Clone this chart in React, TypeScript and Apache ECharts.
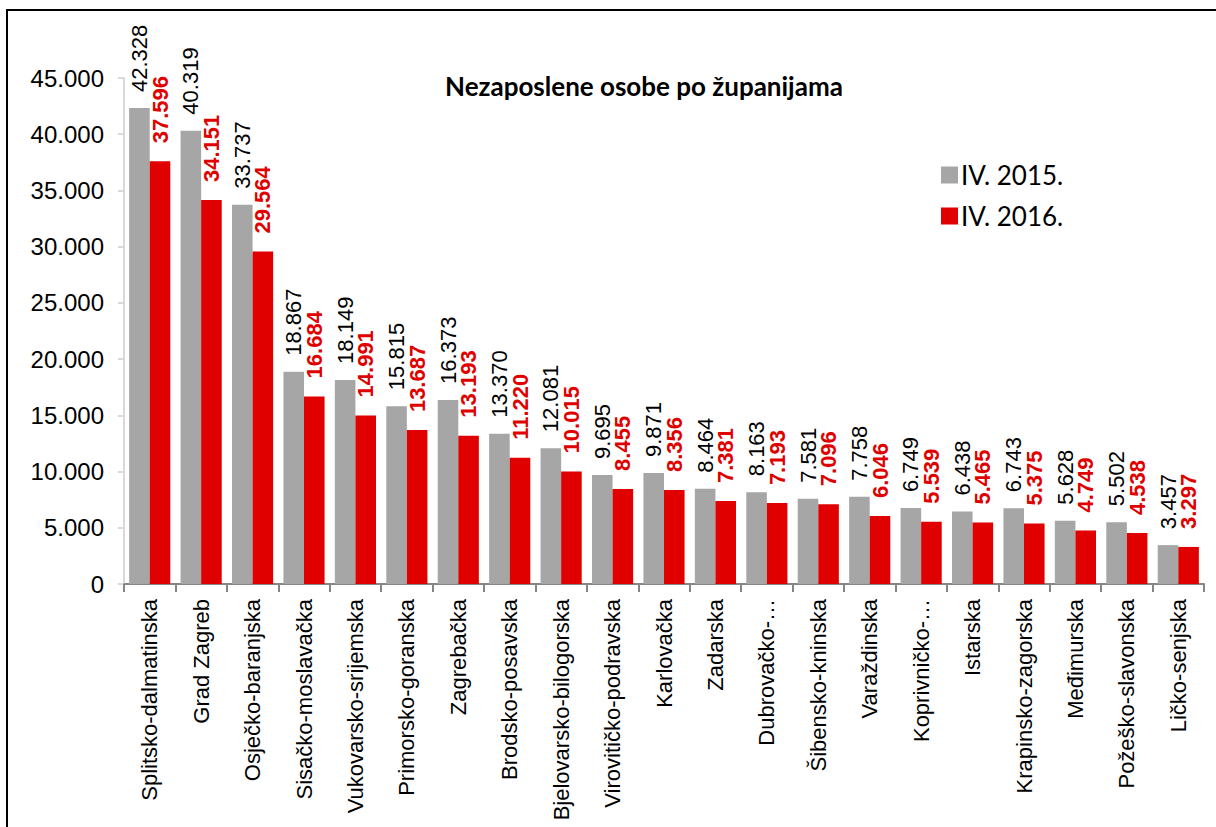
import React, { useEffect, useRef } from "react";
import * as echarts from "echarts";

const categories = [
  "Splitsko-dalmatinska",
  "Grad Zagreb",
  "Osječko-baranjska",
  "Sisačko-moslavačka",
  "Vukovarsko-srijemska",
  "Primorsko-goranska",
  "Zagrebačka",
  "Brodsko-posavska",
  "Bjelovarsko-bilogorska",
  "Virovitičko-podravska",
  "Karlovačka",
  "Zadarska",
  "Dubrovačko-…",
  "Šibensko-kninska",
  "Varaždinska",
  "Koprivničko-…",
  "Istarska",
  "Krapinsko-zagorska",
  "Međimurska",
  "Požeško-slavonska",
  "Ličko-senjska",
];

const values2015 = [
  42328, 40319, 33737, 18867, 18149, 15815, 16373, 13370, 12081, 9695, 9871,
  8464, 8163, 7581, 7758, 6749, 6438, 6743, 5628, 5502, 3457,
];

const values2016 = [
  37596, 34151, 29564, 16684, 14991, 13687, 13193, 11220, 10015, 8455, 8356,
  7381, 7193, 7096, 6046, 5539, 5465, 5375, 4749, 4538, 3297,
];

const seriesNames = ["IV. 2015.", "IV. 2016."];
const titleText = "Nezaposlene osobe po županijama";

const NARROW = "'Liberation Sans Narrow', 'Arial Narrow', 'Liberation Sans', Arial, sans-serif";
const CAL = "Lato, 'Open Sans', sans-serif";

const fmt = (v: number) => String(v).replace(/\B(?=(\d{3})+(?!\d))/g, ".");

export default function App() {
  const ref = useRef<HTMLDivElement>(null);
  useEffect(() => {
    if (!ref.current) return;
    const chart = echarts.init(ref.current, undefined, { renderer: "svg" });
    chart.setOption({
      animation: false,
      backgroundColor: "#ffffff",
      title: {
        text: titleText,
        left: 440,
        top: 68,
        textStyle: { fontFamily: CAL, fontWeight: "bold", fontSize: 26, color: "#000" },
      },
      legend: {
        orient: "vertical",
        left: 936,
        top: 157,
        itemWidth: 17,
        itemHeight: 17,
        itemGap: 15,
        icon: "rect",
        textStyle: { fontFamily: CAL, fontSize: 26, color: "#000", padding: [0, 0, 0, -2] },
        data: seriesNames,
      },
      graphic: [
        {
          type: "rect",
          shape: { x: 7, y: 10, width: 1230, height: 840 },
          style: { fill: "none", stroke: "#000", lineWidth: 2 },
          silent: true,
        },
      ],
      grid: { left: 124, right: 12, top: 78, bottom: 243, containLabel: false, outerBoundsMode: "none" },
      xAxis: {
        type: "category",
        data: categories,
        axisLine: { lineStyle: { color: "#868686", width: 2 } },
        axisTick: { show: true, length: 8, lineStyle: { color: "#868686", width: 2 } },
        axisLabel: {
          rotate: 90,
          interval: 0,
          margin: 15,
          fontFamily: NARROW,
          fontSize: 22,
          color: "#000",
        },
      },
      yAxis: {
        type: "value",
        min: 0,
        max: 45000,
        interval: 5000,
        splitLine: { show: false },
        axisLine: { show: true, lineStyle: { color: "#D9D9D9", width: 2 } },
        axisTick: { show: true, length: 6, lineStyle: { color: "#D9D9D9", width: 2 } },
        axisLabel: {
          formatter: (v: number) => fmt(v),
          margin: 20,
          fontFamily: NARROW,
          fontSize: 24,
          color: "#000",
        },
      },
      series: [
        {
          name: seriesNames[0],
          type: "bar",
          data: values2015,
          barGap: "0%",
          barCategoryGap: "20%",
          itemStyle: { color: "#A6A6A6" },
          label: {
            show: true,
            position: "top",
            rotate: 90,
            align: "left",
            verticalAlign: "middle",
            distance: 16,
            formatter: (p: any) => fmt(p.value),
            fontFamily: NARROW,
            fontSize: 22,
            color: "#000",
          },
        },
        {
          name: seriesNames[1],
          type: "bar",
          data: values2016,
          barGap: "0%",
          barCategoryGap: "20%",
          itemStyle: { color: "#E00000" },
          label: {
            show: true,
            position: "top",
            rotate: 90,
            align: "left",
            verticalAlign: "middle",
            distance: 18,
            formatter: (p: any) => fmt(p.value),
            fontFamily: NARROW,
            fontWeight: "bold",
            fontSize: 22,
            color: "#E00000",
          },
        },
      ],
    });
    return () => chart.dispose();
  }, []);
  return (
    <div
      ref={ref}
      style={{ position: "absolute", left: 0, top: 0, width: 1216, height: 827, overflow: "hidden" }}
    />
  );
}
